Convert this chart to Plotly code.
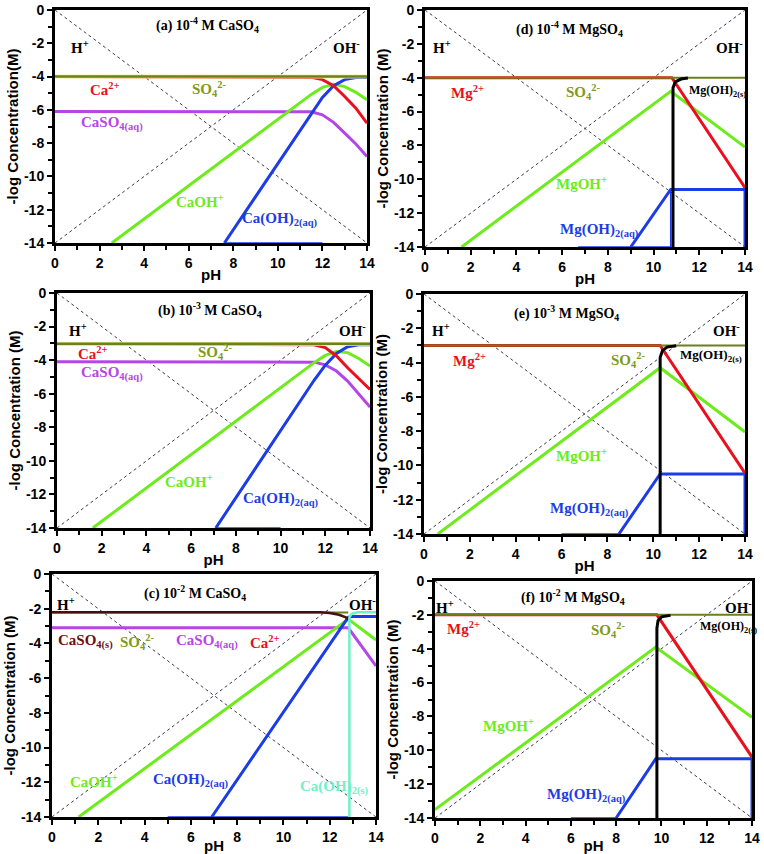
import plotly.graph_objects as go

W, H = 764, 854

# ---------------- common ----------------
X_TICKS = [0, 2, 4, 6, 8, 10, 12, 14]
Y_TICKS = [0, -2, -4, -6, -8, -10, -12, -14]
Y_TICKTEXT = ["0", "-2", "-4", "-6", "-8", "-10", "-12", "-14"]
DIAG_PH = [0, 14]
H_LOG = [0, -14]
OH_LOG = [-14, 0]

# ---------------- (a) 1e-4 M CaSO4 ----------------
A_SO4_PH = [0, 14]; A_SO4 = [-4, -4]
A_CA_PH = [0, 11, 11.5, 12, 12.5, 13, 13.5, 14]
A_CA = [-4, -4.02, -4.05, -4.18, -4.55, -5.2, -5.9, -6.8]
A_CASO4_PH = [0, 11, 11.5, 12, 12.5, 13, 13.5, 14]
A_CASO4 = [-6.1, -6.1, -6.12, -6.3, -6.75, -7.4, -8.05, -8.8]
A_CAOH_PH = [2.55, 11, 11.5, 12, 12.5, 13, 13.5, 14]
A_CAOH = [-14, -5.55, -5.07, -4.65, -4.47, -4.6, -4.95, -5.4]
A_CAOH2_PH = [7.6, 11, 11.5, 12, 12.5, 13, 13.5, 14]
A_CAOH2 = [-14, -7.2, -6.2, -5.25, -4.55, -4.18, -4.06, -4.05]
A_BASE_PH = [7.6, 12]; A_BASE = [-14, -14]

# ---------------- (b) 1e-3 M CaSO4 ----------------
B_SO4_PH = [0, 14]; B_SO4 = [-3.02, -3.02]
B_CA_PH = [0, 11.2, 11.5, 12, 12.5, 13, 13.5, 14]
B_CA = [-3.02, -3.05, -3.08, -3.25, -3.75, -4.45, -5.1, -5.75]
B_CASO4_PH = [0, 11.5, 12, 12.5, 13, 13.5, 14]
B_CASO4 = [-4.1, -4.12, -4.28, -4.65, -5.25, -6.0, -6.8]
B_CAOH_PH = [1.6, 11, 11.5, 12, 12.5, 13, 13.5, 14]
B_CAOH = [-14, -4.6, -4.15, -3.72, -3.48, -3.55, -3.9, -4.35]
B_CAOH2_PH = [7.1, 11, 11.5, 12, 12.5, 13, 13.5, 14]
B_CAOH2 = [-14, -6.2, -5.2, -4.3, -3.6, -3.2, -3.08, -3.08]
B_BASE_PH = [7.1, 10]; B_BASE = [-14, -14]

# ---------------- (c) 1e-2 M CaSO4 ----------------
C_SOLID_PH = [0, 11.6, 12.0, 12.4, 12.7, 12.8]
C_SOLID = [-2.2, -2.2, -2.25, -2.35, -2.5, -2.6]
C_SO4_PH = [0, 12.8]; C_SO4 = [-2.22, -2.22]
C_CASO4_PH = [0, 12.8, 14]; C_CASO4 = [-3.1, -3.1, -5.3]
C_CAOH_PH = [1.15, 12.8, 14]; C_CAOH = [-14, -2.6, -3.8]
C_CAOH2_PH = [6.9, 12.8, 12.95, 14]; C_CAOH2 = [-14, -2.5, -2.45, -2.45]
C_CAOH2S_PH = [12.85, 12.85, 12.95, 13.2, 14]
C_CAOH2S = [-14, -2.5, -2.3, -2.2, -2.2]
C_BASE_PH = [5.0, 12.8]; C_BASE = [-14, -14]

# ---------------- (d) 1e-4 M MgSO4 ----------------
D_SO4_PH = [0, 14]; D_SO4 = [-4, -4]
D_MG_PH = [0, 10.8, 14]; D_MG = [-4, -4, -10.5]
D_MGOH_PH = [1.6, 10.75, 14]; D_MGOH = [-14, -4.8, -8.1]
D_MGOH2_PH = [9.0, 10.75, 14, 14]; D_MGOH2 = [-14, -10.6, -10.6, -14]
D_MGOH2V_PH = [10.75, 10.75]; D_MGOH2V = [-14, -10.6]
D_BASE_PH = [6.7, 10.75]; D_BASE = [-14, -14]
D_SOLID_PH = [10.85, 10.85, 10.95, 11.2, 11.5]
D_SOLID = [-14, -4.6, -4.25, -4.08, -4.02]

# ---------------- (e) 1e-3 M MgSO4 ----------------
E_SO4_PH = [0, 14]; E_SO4 = [-3, -3]
E_MG_PH = [0, 10.3, 14]; E_MG = [-3, -3, -10.45]
E_MGOH_PH = [0.6, 10.3, 14]; E_MGOH = [-14, -4.3, -8.05]
E_MGOH2_PH = [8.5, 10.3, 14, 14]; E_MGOH2 = [-14, -10.5, -10.5, -14]
E_BASE_PH = [6.0, 8.5]; E_BASE = [-14, -14]
E_SOLID_PH = [10.3, 10.3, 10.4, 10.6, 11.0]
E_SOLID = [-14, -3.7, -3.3, -3.1, -3.02]

# ---------------- (f) 1e-2 M MgSO4 ----------------
F_SO4_PH = [0, 14]; F_SO4 = [-2, -2]
F_MG_PH = [0, 9.8, 14]; F_MG = [-2, -2, -10.4]
F_MGOH_PH = [0, 9.75, 14]; F_MGOH = [-13.5, -3.9, -8.05]
F_MGOH2_PH = [8.0, 9.75, 14, 14]; F_MGOH2 = [-14, -10.5, -10.5, -14]
F_BASE_PH = [6.0, 8.0]; F_BASE = [-14, -14]
F_SOLID_PH = [9.8, 9.8, 9.85, 10.0, 10.4]
F_SOLID = [-14, -2.8, -2.35, -2.12, -2.03]

RED = "#e8101c"
OLIVE = "#6b7f1c"
OLIVE_T = "#7f9a1a"
GREEN = "#6cec1a"
BLUE = "#1c3ce6"
PURPLE = "#b446e6"
BROWN = "#4a0e0e"
AQUA = "#70f0c8"
BLACK = "#000000"

# panel domains measured in pixels: (x0, x1, ytop, ybottom)
PANELS = [
    (55, 367, 10, 243),    # a
    (57, 370, 293, 528),   # b
    (52, 376, 574, 817),   # c
    (425, 745, 10, 247),   # d
    (424, 745, 294, 534),  # e
    (435, 752, 581, 818),  # f
]
YTITLES = ["-log Concentration(M)", "-log Concentration (M)", "-log Concentration (M)",
           "-log Concentration (M)", "-log Concentration (M)", "-log Concentration (M)"]

fig = go.Figure()
layout = dict(width=W, height=H, margin=dict(l=0, r=0, t=0, b=0),
              paper_bgcolor="white", plot_bgcolor="white", showlegend=False,
              autosize=False)

for i, (x0, x1, yt, yb) in enumerate(PANELS):
    n = "" if i == 0 else str(i + 1)
    ax = dict(domain=[x0 / W, x1 / W], range=[0, 14], tickvals=X_TICKS,
              showgrid=False, zeroline=False, showline=True, linecolor="black",
              linewidth=3, mirror=True, ticks="outside", ticklen=5, tickwidth=2,
              tickcolor="black", ticklabeloverflow="allow",
              minor=dict(tickvals=[1, 3, 5, 7, 9, 11, 13], ticks="outside",
                         ticklen=4, tickwidth=2, tickcolor="black"),
              tickfont=dict(family="Liberation Sans", size=14, color="black", weight="bold"),
              title=dict(text="pH", font=dict(family="Liberation Sans", size=15,
                                               color="black", weight="bold"), standoff=0),
              anchor="y" + n, automargin=False)
    ay = dict(domain=[1 - yb / H, 1 - yt / H], range=[-14, 0], tickmode="array",
              tickvals=Y_TICKS, ticktext=Y_TICKTEXT,
              showgrid=False, zeroline=False, showline=True, linecolor="black",
              linewidth=3, mirror=True, ticks="outside", ticklen=5, tickwidth=2,
              tickcolor="black", ticklabeloverflow="allow", ticklabelposition="outside",
              minor=dict(tickvals=[-1, -3, -5, -7, -9, -11, -13], ticks="outside",
                         ticklen=4, tickwidth=2, tickcolor="black"),
              tickfont=dict(family="Liberation Sans", size=14, color="black", weight="bold"),
              title=dict(text=YTITLES[i], font=dict(family="Liberation Sans", size=15,
                                                     color="black", weight="bold"), standoff=2),
              anchor="x" + n, automargin=False, layer="above traces")
    layout["xaxis" + n] = ax
    layout["yaxis" + n] = ay


def line(panel, xs, ys, color, width=3, dash=None):
    n = "" if panel == 0 else str(panel + 1)
    fig.add_trace(go.Scatter(x=xs, y=ys, mode="lines", xaxis="x" + n, yaxis="y" + n,
                             line=dict(color=color, width=width, dash=dash),
                             hoverinfo="skip", cliponaxis=True))


annotations = []


def label(panel, x, y, text, color, size=15):
    n = "" if panel == 0 else str(panel + 1)
    annotations.append(dict(x=x, y=y, xref="x" + n, yref="y" + n, text=text,
                            showarrow=False,
                            font=dict(family="Liberation Serif", size=size, color=color,
                                      weight="bold")))


# diagonals on all panels
for p in range(6):
    line(p, DIAG_PH, H_LOG, "#3a3a50", 1, "dot")
    line(p, DIAG_PH, OH_LOG, "#3a3a50", 1, "dot")

# (a)
line(0, A_BASE_PH, A_BASE, BLUE, 1.5)
line(0, A_CASO4_PH, A_CASO4, PURPLE)
line(0, A_CAOH_PH, A_CAOH, GREEN)
line(0, A_CAOH2_PH, A_CAOH2, BLUE)
line(0, A_CA_PH, A_CA, RED)
line(0, A_SO4_PH, A_SO4, "#f4f0a0", 4)
line(0, A_SO4_PH, A_SO4, OLIVE, 2.5)
label(0, 6.85, -0.9, "(a) 10<sup>-4</sup> M CaSO<sub>4</sub>", "black", 14)
label(0, 1.1, -2.25, "H<sup>+</sup>", "black")
label(0, 13.1, -2.25, "OH<sup>-</sup>", "black")
label(0, 2.25, -4.75, "Ca<sup>2+</sup>", RED)
label(0, 6.95, -4.75, "SO<sub>4</sub><sup>2-</sup>", OLIVE_T)
label(0, 2.55, -6.8, "CaSO<sub>4(aq)</sub>", PURPLE)
label(0, 6.5, -11.5, "CaOH<sup>+</sup>", GREEN)
label(0, 10.1, -12.6, "Ca(OH)<sub>2(aq)</sub>", BLUE)

# (b)
line(1, B_BASE_PH, B_BASE, BLUE, 1.5)
line(1, B_CASO4_PH, B_CASO4, PURPLE)
line(1, B_CAOH_PH, B_CAOH, GREEN)
line(1, B_CAOH2_PH, B_CAOH2, BLUE)
line(1, B_CA_PH, B_CA, RED)
line(1, B_SO4_PH, B_SO4, "#f4f0a0", 4)
line(1, B_SO4_PH, B_SO4, OLIVE, 2.5)
label(1, 6.85, -1.0, "(b) 10<sup>-3</sup> M CaSO<sub>4</sub>", "black", 14)
label(1, 0.95, -2.2, "H<sup>+</sup>", "black")
label(1, 13.2, -2.2, "OH<sup>-</sup>", "black")
label(1, 1.6, -3.6, "Ca<sup>2+</sup>", RED)
label(1, 7.1, -3.5, "SO<sub>4</sub><sup>2-</sup>", OLIVE_T)
label(1, 2.45, -4.8, "CaSO<sub>4(aq)</sub>", PURPLE)
label(1, 5.9, -11.2, "CaOH<sup>+</sup>", GREEN)
label(1, 10.0, -12.3, "Ca(OH)<sub>2(aq)</sub>", BLUE)

# (c)
line(2, C_BASE_PH, C_BASE, BLUE, 1.5)
line(2, C_CASO4_PH, C_CASO4, PURPLE)
line(2, C_CAOH_PH, C_CAOH, GREEN)
line(2, C_CAOH2_PH, C_CAOH2, BLUE)
line(2, C_SO4_PH, C_SO4, OLIVE, 2)
line(2, C_SOLID_PH, C_SOLID, BROWN, 2.5)
line(2, C_CAOH2S_PH, C_CAOH2S, AQUA, 2.5)
label(2, 6.2, -1.1, "(c) 10<sup>-2</sup> M CaSO<sub>4</sub>", "black", 14)
label(2, 0.6, -1.7, "H<sup>+</sup>", "black")
label(2, 13.4, -1.7, "OH<sup>-</sup>", "black")
label(2, 1.45, -3.9, "CaSO<sub>4(s)</sub>", "#6a1010")
label(2, 3.7, -3.9, "SO<sub>4</sub><sup>2-</sup>", OLIVE_T)
label(2, 6.7, -3.9, "CaSO<sub>4(aq)</sub>", PURPLE)
label(2, 9.2, -3.9, "Ca<sup>2+</sup>", RED)
label(2, 1.8, -11.9, "CaOH<sup>+</sup>", GREEN)
label(2, 6.0, -11.9, "Ca(OH)<sub>2(aq)</sub>", BLUE)
label(2, 12.2, -12.3, "Ca(OH)<sub>2(s)</sub>", AQUA)

# (d)
line(3, D_BASE_PH, D_BASE, BLUE, 1.5)
line(3, D_MGOH2V_PH, D_MGOH2V, BLUE, 1.5)
line(3, D_MGOH_PH, D_MGOH, GREEN)
line(3, D_MGOH2_PH, D_MGOH2, BLUE)
line(3, D_MG_PH, D_MG, RED)
line(3, D_SO4_PH, D_SO4, OLIVE, 2)
line(3, D_SOLID_PH, D_SOLID, BLACK, 3)
label(3, 6.3, -1.1, "(d) 10<sup>-4</sup> M MgSO<sub>4</sub>", "black", 14)
label(3, 0.75, -2.2, "H<sup>+</sup>", "black")
label(3, 13.3, -2.2, "OH<sup>-</sup>", "black")
label(3, 1.85, -4.85, "Mg<sup>2+</sup>", RED)
label(3, 6.95, -4.85, "SO<sub>4</sub><sup>2-</sup>", OLIVE_T)
label(3, 12.8, -4.8, "Mg(OH)<sub>2(s)</sub>", "black", 12)
label(3, 6.85, -10.2, "MgOH<sup>+</sup>", GREEN)
label(3, 7.65, -13.0, "Mg(OH)<sub>2(aq)</sub>", BLUE)

# (e)
line(4, E_BASE_PH, E_BASE, BLUE, 1.5)
line(4, E_MGOH_PH, E_MGOH, GREEN)
line(4, E_MGOH2_PH, E_MGOH2, BLUE)
line(4, E_MG_PH, E_MG, RED)
line(4, E_SO4_PH, E_SO4, OLIVE, 2)
line(4, E_SOLID_PH, E_SOLID, BLACK, 3)
label(4, 6.2, -1.1, "(e) 10<sup>-3</sup> M MgSO<sub>4</sub>", "black", 14)
label(4, 0.75, -2.1, "H<sup>+</sup>", "black")
label(4, 13.2, -2.1, "OH<sup>-</sup>", "black")
label(4, 2.0, -3.85, "Mg<sup>2+</sup>", RED)
label(4, 8.9, -3.85, "SO<sub>4</sub><sup>2-</sup>", OLIVE_T)
label(4, 12.5, -3.6, "Mg(OH)<sub>2(s)</sub>", "black", 13)
label(4, 6.85, -9.4, "MgOH<sup>+</sup>", GREEN)
label(4, 7.2, -12.6, "Mg(OH)<sub>2(aq)</sub>", BLUE)

# (f)
line(5, F_BASE_PH, F_BASE, BLUE, 1.5)
line(5, F_MGOH_PH, F_MGOH, GREEN)
line(5, F_MGOH2_PH, F_MGOH2, BLUE)
line(5, F_MG_PH, F_MG, RED)
line(5, F_SO4_PH, F_SO4, OLIVE, 2)
line(5, F_SOLID_PH, F_SOLID, BLACK, 3)
label(5, 6.1, -0.95, "(f) 10<sup>-2</sup> M MgSO<sub>4</sub>", "black", 14)
label(5, 0.45, -1.55, "H<sup>+</sup>", "black")
label(5, 13.4, -1.55, "OH<sup>-</sup>", "black")
label(5, 1.25, -2.8, "Mg<sup>2+</sup>", RED)
label(5, 7.65, -2.9, "SO<sub>4</sub><sup>2-</sup>", OLIVE_T)
label(5, 12.95, -2.7, "Mg(OH)<sub>2(s)</sub>", "black", 12)
label(5, 3.25, -8.5, "MgOH<sup>+</sup>", GREEN)
label(5, 6.7, -12.65, "Mg(OH)<sub>2(aq)</sub>", BLUE)

layout["annotations"] = annotations
fig.update_layout(**layout)
fig.write_html("out.html", config={"displayModeBar": False},
               post_script="document.body.style.margin='0';document.body.style.padding='0';")
